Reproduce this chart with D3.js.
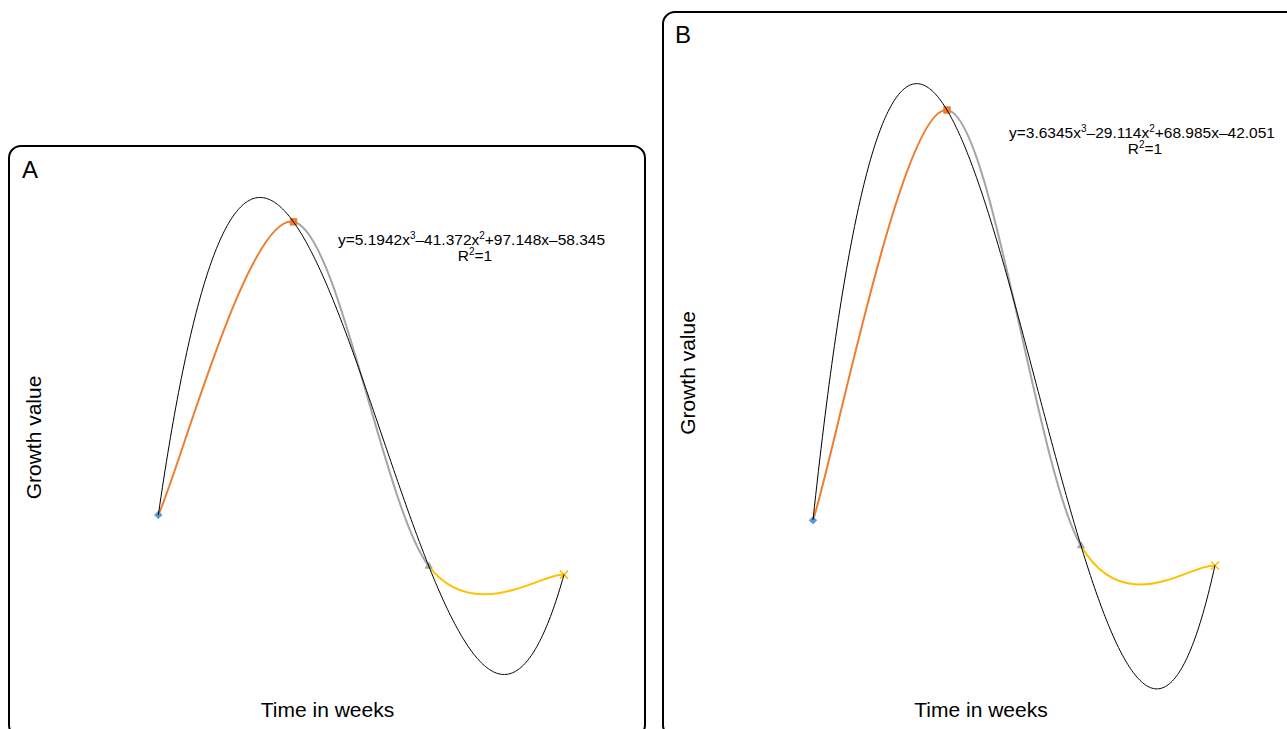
<!DOCTYPE html>
<html><head><meta charset="utf-8">
<script src="https://cdn.jsdelivr.net/npm/d3@7"></script>
<style>body{margin:0;background:#fff;overflow:hidden;} svg{display:block;font-family:"Liberation Sans",Arial,Helvetica,sans-serif;}</style>
</head><body>
<svg id="chart" width="1287" height="729"></svg>
<script>
// ---- data ----
const weeks = [1, 2, 3, 4];
const growthA = [2.63, 12.02, 0.99, 0.72];
const growthB = [1.45, 8.54, 1.01, 0.67];
const trendCoefA = [5.1942, -41.372, 97.148, -58.345];
const trendCoefB = [3.6345, -29.114, 68.985, -42.051];
const rSquared = ["1", "1"];
const panelLabels = ["A", "B"];
const xTitle = "Time in weeks";
const yTitle = "Growth value";

// ---- styles ----
const pointColors = ["#5B9BD5", "#ED7D31", "#A5A5A5", "#FFC000"];
const markerShapes = ["diamond", "square", "triangle", "x"];

// ---- layout ----
const layout = [
  {frame:{x:9,y:146,w:636,h:591}, label:{x:22,y:178}, xr:[158.3,564], yr:[722,160], yDomain:[-4,14],
   eq:{x:471.5,y:245}, r2:{x:475,y:261}, xt:{x:327.5,y:717}, yt:{x:41,y:437.5}},
  {frame:{x:663,y:12,w:660,h:725}, label:{x:675,y:43}, xr:[813,1215], yr:[720,25.5], yDomain:[-2,10],
   eq:{x:1142,y:138}, r2:{x:1145,y:154}, xt:{x:981,y:717}, yt:{x:695,y:373}}
];

const panels = [
  {values: growthA, coef: trendCoefA},
  {values: growthB, coef: trendCoefB}
];

// Spreadsheet-style smoothed line: cubic Bezier segments whose tangents are
// (next - prev)/6, with endpoints using the neighbouring chord.
function curveSmoothSheet(context) {
  let xs, ys;
  return {
    areaStart() {}, areaEnd() {},
    lineStart() { xs = []; ys = []; },
    point(x, y) { xs.push(+x); ys.push(+y); },
    lineEnd() {
      const n = xs.length;
      if (!n) return;
      context.moveTo(xs[0], ys[0]);
      if (n === 1) return;
      const tx = [], ty = [];
      for (let i = 0; i < n; i++) {
        const a = Math.max(0, i - 1), b = Math.min(n - 1, i + 1);
        tx.push((xs[b] - xs[a]) / 6);
        ty.push((ys[b] - ys[a]) / 6);
      }
      for (let i = 0; i < n - 1; i++) {
        context.bezierCurveTo(xs[i] + tx[i], ys[i] + ty[i],
                              xs[i+1] - tx[i+1], ys[i+1] - ty[i+1],
                              xs[i+1], ys[i+1]);
      }
    }
  };
}

const svg = d3.select("#chart");

function poly(coef, x) {
  return coef[0]*x*x*x + coef[1]*x*x + coef[2]*x + coef[3];
}
function fmtNum(v) { return String(Math.abs(v)); }

panels.forEach((p, pi) => {
  const L = layout[pi];
  const g = svg.append("g");

  g.append("rect")
    .attr("x", L.frame.x).attr("y", L.frame.y)
    .attr("width", L.frame.w).attr("height", L.frame.h)
    .attr("rx", 12).attr("ry", 12)
    .attr("fill", "#fff").attr("stroke", "#000").attr("stroke-width", 2);

  const x = d3.scaleLinear().domain([weeks[0], weeks[weeks.length-1]]).range(L.xr);
  const y = d3.scaleLinear().domain(L.yDomain).range(L.yr);

  const pts = weeks.map((w, i) => ({w, v: p.values[i]}));
  const line = d3.line().x(d => x(d.w)).y(d => y(d.v)).curve(curveSmoothSheet);

  // colored smoothed segments (segment i -> i+1 takes colour of point i+1)
  for (let i = 0; i < pts.length - 1; i++) {
    const id = `clip-${pi}-${i}`;
    g.append("clipPath").attr("id", id).append("rect")
      .attr("x", x(weeks[i])).attr("y", 0)
      .attr("width", x(weeks[i+1]) - x(weeks[i])).attr("height", 729);
    g.append("path").datum(pts)
      .attr("d", line)
      .attr("fill", "none")
      .attr("stroke", pointColors[i+1])
      .attr("stroke-width", 2)
      .attr("clip-path", `url(#${id})`);
  }

  // markers
  pts.forEach((d, i) => {
    const cx = x(d.w), cy = y(d.v);
    const shape = markerShapes[i];
    const c = pointColors[i];
    if (shape === "diamond") {
      g.append("path").attr("d", d3.symbol(d3.symbolSquare, 28)())
        .attr("transform", `translate(${cx},${cy}) rotate(45)`)
        .attr("fill", c).attr("stroke", c).attr("stroke-width", 0.8);
    } else if (shape === "square") {
      g.append("path").attr("d", d3.symbol(d3.symbolSquare, 44)())
        .attr("transform", `translate(${cx},${cy})`)
        .attr("fill", c).attr("stroke", c).attr("stroke-width", 0.8);
    } else if (shape === "triangle") {
      g.append("path").attr("d", d3.symbol(d3.symbolTriangle, 22)())
        .attr("transform", `translate(${cx},${cy})`)
        .attr("fill", c).attr("stroke", c).attr("stroke-width", 0.8);
    } else {
      const pth = d3.path();
      pth.moveTo(-4, -4); pth.lineTo(4, 4); pth.moveTo(-4, 4); pth.lineTo(4, -4);
      g.append("path").attr("d", pth.toString())
        .attr("transform", `translate(${cx},${cy})`)
        .attr("fill", "none").attr("stroke", c).attr("stroke-width", 1.5);
    }
  });

  // polynomial trendline (order 3) from displayed coefficients
  const tx = d3.range(weeks[0], weeks[weeks.length-1] + 1e-9, 0.01);
  g.append("path").datum(tx)
    .attr("d", d3.line().x(t => x(t)).y(t => y(poly(p.coef, t))))
    .attr("fill", "none").attr("stroke", "#000").attr("stroke-width", 1);

  // equation label
  const eq = g.append("text").attr("x", L.eq.x).attr("y", L.eq.y)
    .attr("text-anchor", "middle").attr("font-size", 15.5).attr("fill", "#000");
  const dash = "\u2013";
  const c = p.coef;
  eq.append("tspan").text("y=" + (c[0] < 0 ? dash : "") + fmtNum(c[0]) + "x");
  eq.append("tspan").attr("font-size", 10).attr("dy", -6).text("3");
  eq.append("tspan").attr("dy", 6).text((c[1] < 0 ? dash : "+") + fmtNum(c[1]) + "x");
  eq.append("tspan").attr("font-size", 10).attr("dy", -6).text("2");
  eq.append("tspan").attr("dy", 6)
    .text((c[2] < 0 ? dash : "+") + fmtNum(c[2]) + "x" + (c[3] < 0 ? dash : "+") + fmtNum(c[3]));

  const r2 = g.append("text").attr("x", L.r2.x).attr("y", L.r2.y)
    .attr("text-anchor", "middle").attr("font-size", 15.5).attr("fill", "#000");
  r2.append("tspan").text("R");
  r2.append("tspan").attr("font-size", 10).attr("dy", -6).text("2");
  r2.append("tspan").attr("dy", 6).text("=" + rSquared[pi]);

  // panel label
  g.append("text").attr("x", L.label.x).attr("y", L.label.y)
    .attr("font-size", 24).attr("fill", "#000").text(panelLabels[pi]);

  // axis titles
  g.append("text").attr("x", L.xt.x).attr("y", L.xt.y)
    .attr("text-anchor", "middle").attr("font-size", 21).attr("fill", "#000").text(xTitle);
  g.append("text").attr("transform", `translate(${L.yt.x},${L.yt.y}) rotate(-90)`)
    .attr("text-anchor", "middle").attr("font-size", 21).attr("fill", "#000").text(yTitle);
});
</script>
</body></html>
